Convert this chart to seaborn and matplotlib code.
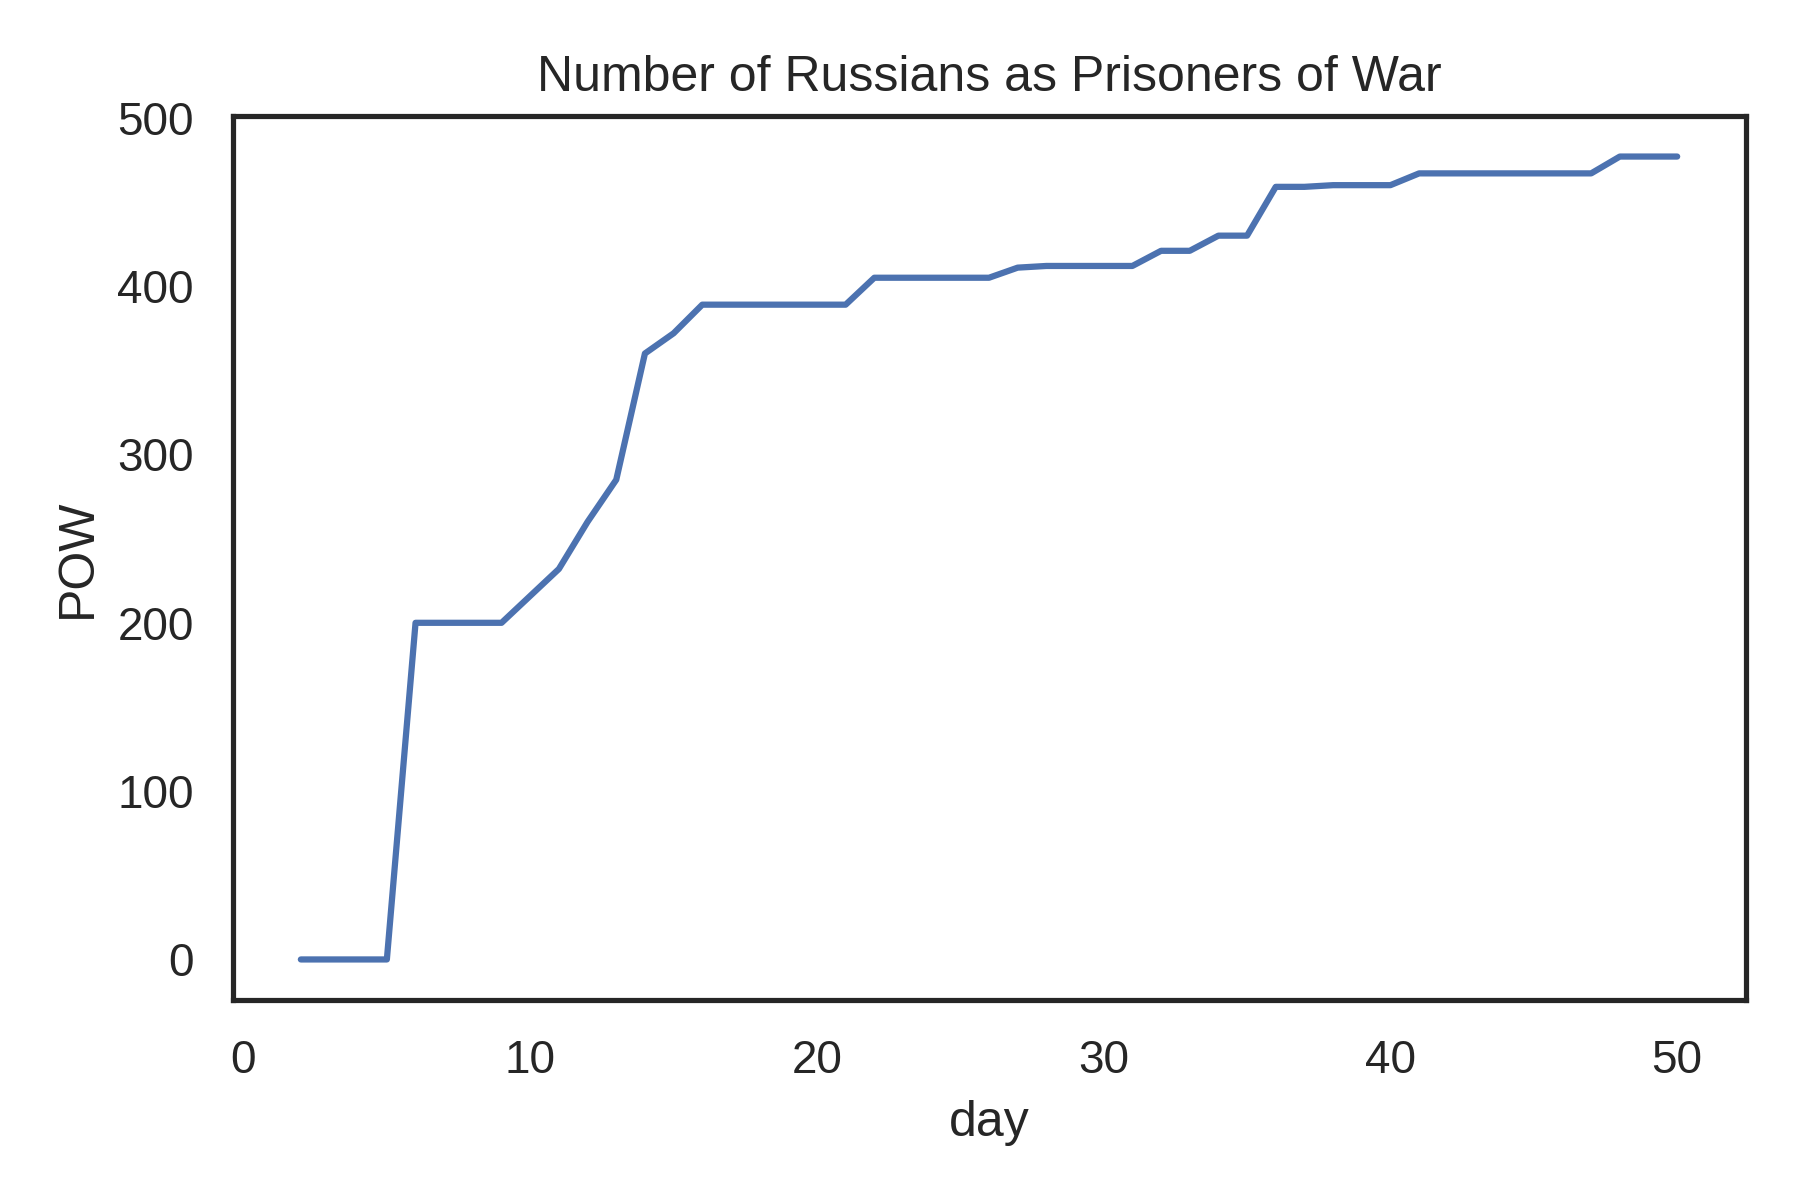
import matplotlib
matplotlib.use("Agg")
import matplotlib.pyplot as plt
import seaborn as sns
import pandas as pd

days = list(range(2, 51))
pow_values = [0, 0, 0, 0,            # 2-5
              200, 200, 200, 200,    # 6-9
              216, 232, 260, 285,    # 10-13
              360, 372, 389,         # 14-16
              389, 389, 389, 389, 389,  # 17-21
              405, 405, 405, 405, 405,  # 22-26
              411, 412, 412, 412, 412,  # 27-31
              421, 421, 430, 430,       # 32-35
              459, 459, 460, 460, 460,  # 36-40
              467, 467, 467, 467, 467, 467, 467,  # 41-47
              477, 477, 477]            # 48-50

df = pd.DataFrame({"day": days, "POW": pow_values})

sns.set_theme(style="white")
plt.rcParams['font.family'] = ['Liberation Sans', 'DejaVu Sans']

fig, ax = plt.subplots(figsize=(6, 4), dpi=300)
sns.lineplot(data=df, x="day", y="POW", ax=ax)
ax.set_title("Number of Russians as Prisoners of War")
ax.set_xlim(-0.35, 52.4)
ax.set_yticks([0, 100, 200, 300, 400, 500])
fig.subplots_adjust(left=0.1297, right=0.970, top=0.903, bottom=0.167)
fig.savefig("out.png", dpi=300)
